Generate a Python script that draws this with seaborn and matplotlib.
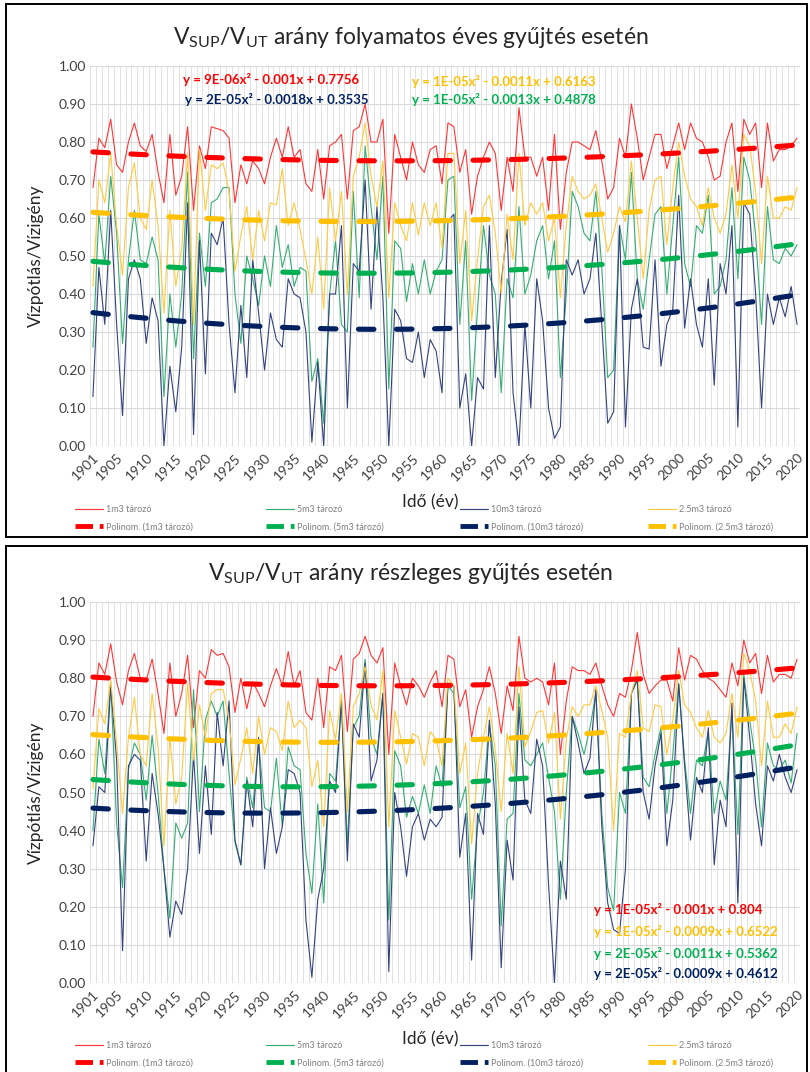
import numpy as np
import pandas as pd
import matplotlib
matplotlib.use("Agg")
import matplotlib.pyplot as plt
import seaborn as sns
from matplotlib.lines import Line2D
from matplotlib.patches import Rectangle

# ---------------- data ----------------
years = list(range(1901, 2021))
series_names = ["1m3 tározó", "5m3 tározó", "10m3 tározó", "2.5m3 tározó"]

top_1m3 = [0.68,0.81,0.785,0.86,0.74,0.72,0.80,0.85,0.79,0.775,0.82,0.72,0.64,0.82,0.66,0.71,0.84,0.62,0.79,0.73,
           0.84,0.835,0.83,0.81,0.64,0.74,0.69,0.75,0.73,0.69,0.76,0.81,0.76,0.84,0.76,0.78,
           0.69,0.67,0.78,0.65,0.79,0.80,0.82,0.65,0.83,0.84,0.90,0.80,0.80,0.86,0.56,0.82,0.76,0.70,0.80,0.74,
           0.72,0.78,0.79,0.69,0.85,0.84,0.72,0.78,0.61,0.71,0.76,0.80,0.77,0.62,0.76,0.67,0.89,0.76,0.76,0.71,
           0.76,0.62,0.82,0.57,
           0.72,0.80,0.80,0.79,0.78,0.83,0.75,0.65,0.68,0.81,0.76,0.90,0.81,0.70,0.76,0.82,0.82,0.73,0.79,0.85,
           0.78,0.85,0.81,0.80,0.76,0.70,0.71,0.80,0.85,0.67,0.86,0.82,0.85,0.68,0.85,0.75,0.78,0.78,0.79,0.81]
top_5m3 = [0.26,0.61,0.48,0.71,0.56,0.27,0.49,0.62,0.49,0.48,0.55,0.49,0.13,0.40,0.26,0.40,0.72,0.23,0.56,0.42,
           0.64,0.65,0.68,0.68,0.40,0.27,0.50,0.44,0.37,0.50,0.42,0.58,0.47,0.53,0.42,0.47,
           0.46,0.17,0.23,0.06,0.40,0.54,0.32,0.30,0.67,0.39,0.79,0.63,0.49,0.71,0.15,0.54,0.52,0.38,0.48,0.40,
           0.49,0.40,0.46,0.49,0.70,0.71,0.32,0.54,0.12,0.36,0.58,0.45,0.40,0.14,0.44,0.39,0.63,0.40,0.45,0.54,
           0.58,0.44,
           0.54,0.18,0.40,0.67,0.63,0.56,0.54,0.67,0.47,0.18,0.20,0.58,0.49,0.72,0.44,0.36,0.49,0.61,0.63,0.40,
           0.58,0.76,0.48,0.42,0.58,0.56,0.66,0.40,0.42,0.49,0.68,0.44,0.76,0.70,0.555,0.32,0.63,0.49,0.48,0.52,
           0.50,0.53]
top_10m3 = [0.13,0.47,0.32,0.62,0.32,0.08,0.44,0.49,0.44,0.27,0.39,0.33,0.00,0.21,0.09,0.26,0.64,0.03,0.54,0.19,
            0.56,0.53,0.60,0.32,0.14,0.37,0.18,0.49,0.35,0.20,0.35,0.28,0.26,0.44,0.40,0.39,
            0.30,0.01,0.22,0.00,0.40,0.40,0.58,0.10,0.48,0.46,0.70,0.36,0.63,0.39,0.00,0.36,0.33,0.23,0.22,0.30,
            0.18,0.28,0.25,0.14,0.59,0.61,0.10,0.19,0.00,0.18,0.15,0.58,0.18,0.43,0.57,0.14,0.00,0.32,0.10,0.44,
            0.33,0.10,
            0.02,0.05,0.49,0.45,0.49,0.40,0.44,0.56,0.32,0.06,0.09,0.58,0.05,0.36,0.44,0.26,0.255,0.49,0.21,0.32,
            0.36,0.66,0.31,0.44,0.32,0.26,0.44,0.16,0.48,0.40,0.58,0.05,0.64,0.61,0.40,0.10,0.40,0.32,0.39,0.34,
            0.42,0.32]
top_2_5m3 = [0.42,0.70,0.64,0.77,0.58,0.45,0.68,0.745,0.60,0.57,0.70,0.58,0.35,0.62,0.42,0.52,0.77,0.32,0.78,0.62,
             0.74,0.73,0.745,0.67,0.46,0.555,0.63,0.49,0.62,0.54,0.64,0.635,0.73,0.58,0.64,0.57,
             0.49,0.40,0.55,0.36,0.68,0.54,0.67,0.40,0.71,0.76,0.85,0.71,0.63,0.75,0.39,0.64,0.58,0.54,0.64,0.555,
             0.64,0.58,0.64,0.52,0.77,0.77,0.48,0.62,0.33,0.49,0.63,0.66,0.56,0.40,0.61,0.49,0.77,0.58,0.64,0.61,
             0.64,0.54,
             0.60,0.39,0.58,0.71,0.67,0.65,0.66,0.69,0.60,0.51,0.56,0.63,0.59,0.75,0.60,0.44,0.62,0.70,0.71,0.53,
             0.68,0.80,0.71,0.65,0.63,0.58,0.68,0.60,0.56,0.61,0.74,0.60,0.82,0.79,0.67,0.48,0.71,0.60,0.60,0.63,
             0.62,0.68]

bot_1m3 = [0.70,0.84,0.81,0.89,0.79,0.73,0.82,0.865,0.80,0.795,0.85,0.76,0.655,0.84,0.70,0.76,0.86,0.67,0.82,0.80,
           0.875,0.86,0.865,0.83,0.71,0.80,0.72,0.79,0.76,0.725,0.78,0.825,0.78,0.87,0.78,0.82,
           0.71,0.69,0.80,0.67,0.83,0.82,0.86,0.66,0.85,0.865,0.91,0.86,0.84,0.88,0.60,0.84,0.78,0.73,0.80,0.78,
           0.75,0.79,0.82,0.725,0.86,0.85,0.725,0.77,0.645,0.725,0.77,0.83,0.76,0.655,0.78,0.715,0.91,0.80,0.79,0.80,
           0.79,0.73,
           0.84,0.60,0.74,0.83,0.82,0.82,0.81,0.84,0.78,0.73,0.70,0.76,0.75,0.82,0.92,0.81,0.76,0.78,0.795,0.795,
           0.74,0.88,0.795,0.86,0.85,0.82,0.80,0.79,0.77,0.75,0.84,0.78,0.90,0.84,0.865,0.76,0.86,0.79,0.81,0.81,
           0.80,0.85]
bot_5m3 = [0.40,0.64,0.55,0.79,0.42,0.25,0.56,0.63,0.60,0.48,0.65,0.50,0.30,0.17,0.42,0.38,0.42,0.77,0.45,0.69,
           0.74,0.70,0.74,0.55,0.37,0.31,0.54,0.46,0.63,0.46,0.45,0.59,0.41,0.62,0.57,0.56,
           0.34,0.235,0.47,0.21,0.55,0.53,0.74,0.365,0.67,0.70,0.85,0.645,0.60,0.76,0.165,0.61,0.57,0.435,0.49,0.445,
           0.52,0.445,0.57,0.515,0.78,0.76,0.46,0.515,0.22,0.41,0.50,0.68,0.57,0.15,0.43,0.445,0.76,0.585,0.57,0.60,
           0.63,0.54,
           0.45,0.22,0.50,0.70,0.655,0.60,0.67,0.76,0.445,0.25,0.19,0.50,0.445,0.76,0.80,0.54,0.515,0.60,0.67,0.445,
           0.60,0.785,0.585,0.445,0.585,0.57,0.66,0.445,0.53,0.48,0.715,0.39,0.81,0.69,0.585,0.41,0.63,0.57,0.56,0.585,
           0.525,0.655]
bot_10m3 = [0.36,0.515,0.50,0.78,0.585,0.085,0.57,0.60,0.585,0.32,0.55,0.445,0.30,0.12,0.215,0.18,0.30,0.60,0.34,0.57,
            0.39,0.71,0.57,0.74,0.375,0.31,0.53,0.41,0.645,0.30,0.46,0.34,0.41,0.56,0.55,0.50,
            0.165,0.015,0.22,0.30,0.53,0.50,0.74,0.32,0.68,0.645,0.84,0.53,0.585,0.76,0.03,0.50,0.41,0.28,0.41,0.445,
            0.375,0.43,0.41,0.435,0.785,0.78,0.33,0.445,0.06,0.445,0.39,0.69,0.47,0.04,0.375,0.27,0.725,0.48,0.445,0.64,
            0.57,0.26,
            0.00,0.32,0.22,0.70,0.63,0.55,0.59,0.77,0.41,0.21,0.14,0.13,0.30,0.76,0.795,0.50,0.43,0.57,0.655,0.36,
            0.48,0.785,0.57,0.375,0.54,0.50,0.67,0.31,0.48,0.41,0.735,0.21,0.80,0.645,0.47,0.36,0.57,0.53,0.60,0.54,
            0.50,0.56]
bot_2_5m3 = [0.51,0.72,0.68,0.795,0.63,0.445,0.645,0.75,0.60,0.57,0.76,0.62,0.36,0.645,0.47,0.54,0.785,0.585,0.73,0.645,
             0.76,0.77,0.77,0.69,0.52,0.59,0.67,0.55,0.70,0.60,0.67,0.66,0.61,0.74,0.67,0.69,
             0.67,0.515,0.585,0.41,0.715,0.64,0.76,0.45,0.725,0.76,0.83,0.73,0.69,0.82,0.41,0.715,0.645,0.575,0.655,0.645,
             0.57,0.66,0.64,0.57,0.80,0.78,0.55,0.63,0.365,0.55,0.645,0.725,0.61,0.45,0.655,0.55,0.83,0.62,0.66,0.71,
             0.715,0.63,
             0.71,0.43,0.64,0.725,0.70,0.73,0.73,0.78,0.715,0.645,0.40,0.655,0.645,0.76,0.82,0.67,0.66,0.73,0.725,0.60,
             0.69,0.82,0.73,0.71,0.67,0.645,0.715,0.645,0.63,0.655,0.76,0.645,0.865,0.82,0.74,0.57,0.74,0.645,0.645,0.68,
             0.655,0.725]

# trend-line heights at 1901, 1960 and 2020 (order-2 "Polinom." trends)
trend_read_years = [1901, 1960, 2020]
top_trend_1m3 = [0.774, 0.751, 0.792]
top_trend_5m3 = [0.486, 0.457, 0.532]
top_trend_10m3 = [0.351, 0.309, 0.398]
top_trend_2_5m3 = [0.615, 0.593, 0.655]
bot_trend_1m3 = [0.803, 0.781, 0.827]
bot_trend_5m3 = [0.534, 0.524, 0.625]
bot_trend_10m3 = [0.459, 0.459, 0.567]
bot_trend_2_5m3 = [0.652, 0.636, 0.708]

top_equations = ["y = 9E-06x² - 0.001x + 0.7756", "y = 1E-05x² - 0.0013x + 0.4878",
                 "y = 2E-05x² - 0.0018x + 0.3535", "y = 1E-05x² - 0.0011x + 0.6163"]
bot_equations = ["y = 1E-05x² - 0.001x + 0.804", "y = 2E-05x² - 0.0011x + 0.5362",
                 "y = 2E-05x² - 0.0009x + 0.4612", "y = 1E-05x² - 0.0009x + 0.6522"]

tick_years = [1901] + list(range(1905, 2021, 5))

# ---------------- style ----------------
sns.set_theme(style="white")
plt.rcParams["font.family"] = ["Lato", "DejaVu Sans"]

THIN = ["#FF3535", "#34AE72", "#34437F", "#FFC940"]
THICK = ["#FF0000", "#00B050", "#002060", "#FFC000"]
DASH = (0, (3.0, 4.4))
W, H = 810.0, 1072.0


def fx(px):
    return px / W


def fy(py):
    return 1 - py / H


fig = plt.figure(figsize=(8.1, 10.72), dpi=100)

# frames
for y0, y1 in [(4, 537), (546, 1085)]:
    fig.patches.append(Rectangle((fx(6), fy(y1)), fx(801), (y1 - y0) / H,
                                 transform=fig.transFigure, fill=False,
                                 edgecolor="black", linewidth=1.4, zorder=0))


def panel(top_px, bot_px, values, trends, title, title_y, equations, eq_pos, xlab_y, leg_y):
    ax = fig.add_axes([fx(90), fy(bot_px), fx(710), (bot_px - top_px) / H])
    idx = np.arange(len(years))
    df = pd.DataFrame({"idx": idx})
    for k, name in enumerate(series_names):
        df[name] = values[k]
    # thin data lines
    for k, name in enumerate(series_names):
        sns.lineplot(data=df, x="idx", y=name, ax=ax, color=THIN[k], linewidth=0.8,
                     legend=False, zorder=3)
    # polynomial (order 2) trend lines through the read trend heights
    xs = idx + 1
    rx = np.array(trend_read_years) - 1900
    for k, name in enumerate(series_names):
        coef = np.polyfit(rx, trends[k], 2)
        trend = np.polyval(coef, xs)
        sns.lineplot(x=idx, y=trend, ax=ax, color=THICK[k], linewidth=3.7,
                     legend=False, zorder=5)
        ln = ax.lines[-1]
        ln.set_linestyle(DASH)
        ln.set_dash_capstyle("round")

    ax.set_xlim(-0.5, len(years) - 0.5)
    ax.set_ylim(0, 1.0)
    ax.set_yticks(np.arange(0, 1.001, 0.1))
    ax.set_yticklabels([f"{v:.2f}" for v in np.arange(0, 1.001, 0.1)],
                       fontsize=10, color="#404040")
    tpos = [years.index(y) for y in tick_years]
    ax.set_xticks(tpos)
    ax.set_xticklabels([str(y) for y in tick_years], rotation=45, ha="right",
                       va="top", rotation_mode="anchor", fontsize=10, color="#404040")
    ax.set_xticks(np.arange(-0.5, len(years), 1), minor=True)
    ax.tick_params(axis="both", which="both", length=0, pad=3)
    ax.tick_params(axis="x", pad=4)
    ax.grid(False)
    ax.yaxis.grid(True, color="#D9D9D9", linewidth=0.8, zorder=0)
    ax.xaxis.grid(True, which="minor", color="#DDDDDD", linewidth=0.6, zorder=0)
    ax.set_axisbelow(True)
    for s in ax.spines.values():
        s.set_visible(False)
    ax.set_xlabel("")
    ax.set_ylabel("")

    fig.text(fx(411), fy(title_y), title, ha="center", va="center", fontsize=16.5,
             color="#262626")
    fig.text(fx(36), fy((top_px + bot_px) / 2), "Vízpótlás/Vízigény", rotation=90,
             ha="center", va="center", fontsize=12.5, color="#262626")
    fig.text(fx(430), fy(xlab_y), "Idő (év)", ha="center", va="center", fontsize=12.5,
             color="#262626")

    for k, (ex, ey) in enumerate(eq_pos):
        fig.text(fx(ex), fy(ey), equations[k], ha="left", va="center", fontsize=9.5,
                 fontweight="bold", color=THICK[k])

    col_x = [75, 266, 460, 648]
    for k, name in enumerate(series_names):
        h1 = Line2D([], [], color=THIN[k], linewidth=0.85)
        h2 = Line2D([], [], color=THICK[k], linewidth=3.5, linestyle=(0, (3.6, 1.4)))
        fig.legend([h1, h2], [name, f"Polinom. ({name})"], loc="upper left",
                   bbox_to_anchor=(fx(col_x[k]), fy(leg_y)), frameon=False,
                   fontsize=6.5, handlelength=3.1, handletextpad=0.35,
                   labelspacing=0.95, borderpad=0, borderaxespad=0,
                   labelcolor="#7F7F7F")
    return ax


panel(66, 446, [top_1m3, top_5m3, top_10m3, top_2_5m3],
      [top_trend_1m3, top_trend_5m3, top_trend_10m3, top_trend_2_5m3],
      r"$\mathregular{V_{SUP}/V_{UT}}$ arány folyamatos éves gyűjtés esetén", 38,
      top_equations, [(183, 80), (412, 100), (185, 100), (412, 81)], 502, 505)

panel(602, 983, [bot_1m3, bot_5m3, bot_10m3, bot_2_5m3],
      [bot_trend_1m3, bot_trend_5m3, bot_trend_10m3, bot_trend_2_5m3],
      r"$\mathregular{V_{SUP}/V_{UT}}$ arány részleges gyűjtés esetén", 573,
      bot_equations, [(594, 910), (594, 953), (594, 974), (594, 931)], 1039, 1041)

fig.savefig("out.png", dpi=100)
